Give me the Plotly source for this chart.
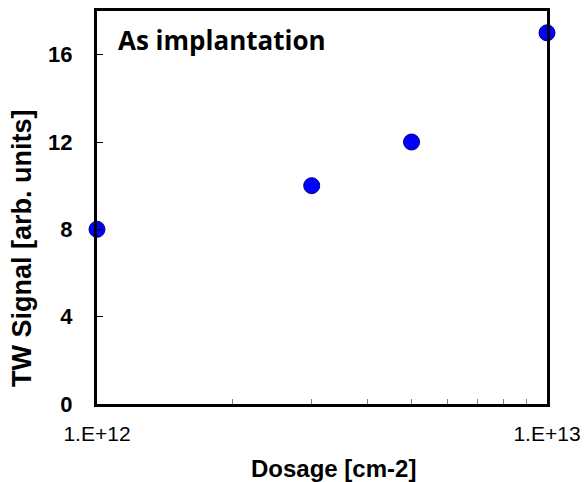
import plotly.graph_objects as go

dosage = [1e12, 3e12, 5e12, 1e13]
signal = [8, 10, 12, 17]
x_tickvals = [1e12, 2e12, 3e12, 4e12, 5e12, 6e12, 7e12, 8e12, 9e12, 1e13]
x_ticktext = ["1.E+12", "", "", "", "", "", "", "", "", "1.E+13"]
y_tickvals = [0, 4, 8, 12, 16]
y_ticktext = ["<b>%d</b>" % v for v in y_tickvals]

L, R, T, B = 97, 547, 11, 404
W, H = R - L, B - T

fig = go.Figure()
fig.add_trace(go.Scatter(
    x=dosage, y=signal, mode="markers",
    marker=dict(size=16, color="#0000FF", line=dict(color="#000080", width=1)),
    cliponaxis=False, showlegend=False,
))

fig.update_layout(
    width=585, height=482,
    margin=dict(l=L, r=585 - R, t=T, b=482 - B),
    paper_bgcolor="white", plot_bgcolor="white",
    font=dict(family="Arial, Liberation Sans", color="black"),
    xaxis=dict(
        type="log", range=[12 - 1e-6, 13 + 1e-6],
        tickvals=x_tickvals, ticktext=x_ticktext,
        ticks="inside", ticklen=5, tickwidth=1, tickcolor="gray",
        showline=True, linewidth=3, linecolor="black", mirror=True,
        showgrid=False, zeroline=False, automargin=False,
        tickfont=dict(size=21),
        ticklabelstandoff=9,
    ),
    yaxis=dict(
        range=[0, 18], tickvals=y_tickvals, ticktext=y_ticktext,
        ticks="inside", ticklen=6, tickwidth=1, tickcolor="black",
        showline=True, linewidth=3, linecolor="black", mirror=True,
        showgrid=False, zeroline=False, automargin=False,
        tickfont=dict(size=22),
        ticklabelstandoff=17,
    ),
    annotations=[
        dict(
            x=19 / W, y=(B - 40) / H, xref="paper", yref="paper",
            xanchor="left", yanchor="middle",
            text="<b>As implantation</b>", showarrow=False,
            font=dict(family="Open Sans, Noto Sans", size=26, color="black"),
        ),
        dict(
            x=(333 - L) / W, y=(B - 468) / H, xref="paper", yref="paper",
            xanchor="center", yanchor="middle",
            text="<b>Dosage [cm-2]</b>", showarrow=False,
            font=dict(size=24, color="black"),
        ),
        dict(
            x=(22 - L) / W, y=(B - 248) / H, xref="paper", yref="paper",
            xanchor="center", yanchor="middle", textangle=-90,
            text="<b>TW Signal [arb. units]</b>", showarrow=False,
            font=dict(size=27, color="black"),
        ),
    ],
)

fig.write_html("out.html")
